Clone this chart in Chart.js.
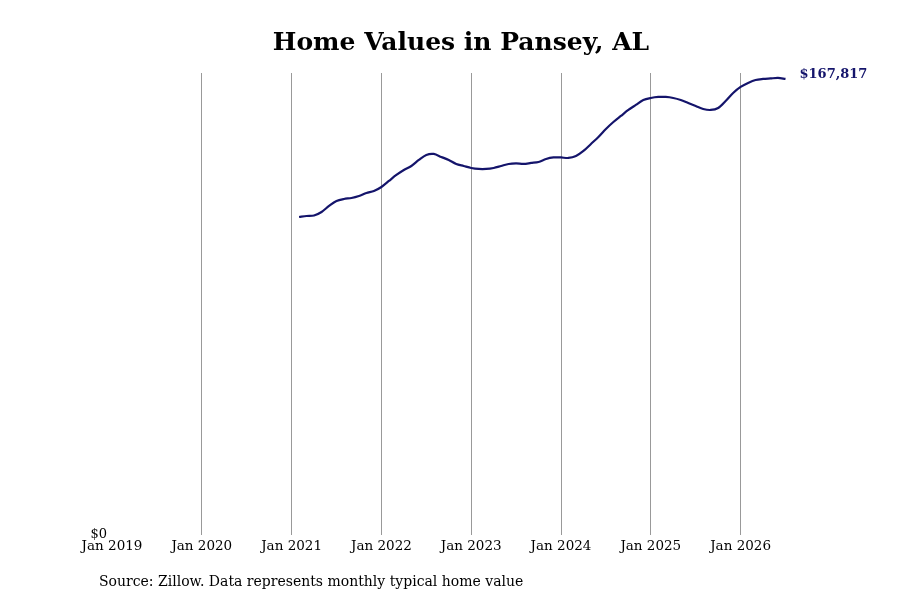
<!DOCTYPE html>
<html>
<head>
<script src="https://cdn.jsdelivr.net/npm/chart.js"></script>
</head>
<body style="margin:0;background:#fff;">
<div style="position:relative;width:900px;height:600px;"><canvas id="c"></canvas></div>
<script>
var startYear = 2021, startMonth = 1; // Feb 2021 (0-based month)
var homeValues = [
  117024,117392,117576,118864,121072,122912,123648,124016,124752,125856,126592,
  128064,130272,132480,134320,135792,138000,139840,140208,139104,138000,136528,135792,
  135056,134688,134688,135056,135792,136528,136712,136528,136896,137264,138368,138920,
  138920,138736,139472,141312,143888,146464,149408,151984,154192,156400,158240,160080,
  160816,161184,161184,160816,160080,158976,157872,156768,156400,157136,159712,162656,
  164864,166336,167440,167808,167992,168176,167817
];
var tickYears = [2019,2020,2021,2022,2023,2024,2025,2026];
var lastLabel = "$167,817";
var sourceText = "Source: Zillow. Data represents monthly typical home value";

var points = homeValues.map(function(v, i) {
  return { x: startYear + (startMonth + i) / 12, y: v };
});

var extras = {
  id: 'extras',
  afterDraw: function(chart) {
    var c = chart.ctx, a = chart.chartArea;
    c.save();
    c.fillStyle = '#000';
    c.font = 'bold 25px "DejaVu Serif"';
    c.textAlign = 'center';
    c.textBaseline = 'middle';
    c.fillText('Home Values in Pansey, AL', 461, 43);
    c.font = '14px "DejaVu Serif"';
    c.textAlign = 'left';
    c.fillText(sourceText, 99, 582);
    c.textAlign = 'right';
    c.font = '13px "DejaVu Serif"';
    c.fillText('$0', 107, 535);
    var meta = chart.getDatasetMeta(0);
    var last = meta.data[meta.data.length - 1];
    c.fillStyle = '#14146b';
    c.font = 'bold 13px "DejaVu Serif"';
    c.textAlign = 'left';
    c.fillText(lastLabel, last.x + 14, last.y - 4);
    c.restore();
  }
};

new Chart(document.getElementById('c'), {
  type: 'line',
  data: { datasets: [{ data: points, borderColor: '#14146b', borderWidth: 2.2, pointRadius: 0, tension: 0.3, fill: false }] },
  options: {
    responsive: true, maintainAspectRatio: false, animation: false,
    layout: { padding: { left: 0, right: 110, top: 73, bottom: 0 } },
    plugins: { legend: { display: false }, tooltip: { enabled: false } },
    scales: {
      x: {
        type: 'linear', min: 2019, max: 2026.55,
        afterBuildTicks: function(s) { s.ticks = tickYears.map(function(y) { return { value: y }; }); },
        afterFit: function(s) { s.height = 65; },
        ticks: { color: '#000', font: { family: 'DejaVu Serif', size: 13.5 }, padding: 3, maxRotation: 0,
                 callback: function(v) { return 'Jan ' + v; } },
        grid: { color: function(ctx) { return ctx.tick && ctx.tick.value === 2019 ? 'rgba(0,0,0,0)' : '#999'; }, lineWidth: 1, drawTicks: false },
        border: { display: false }
      },
      y: {
        min: 0, max: 170000,
        afterFit: function(s) { s.width = 112; },
        ticks: { display: false },
        grid: { display: false },
        border: { display: false }
      }
    }
  },
  plugins: [extras]
});
</script>
</body>
</html>
